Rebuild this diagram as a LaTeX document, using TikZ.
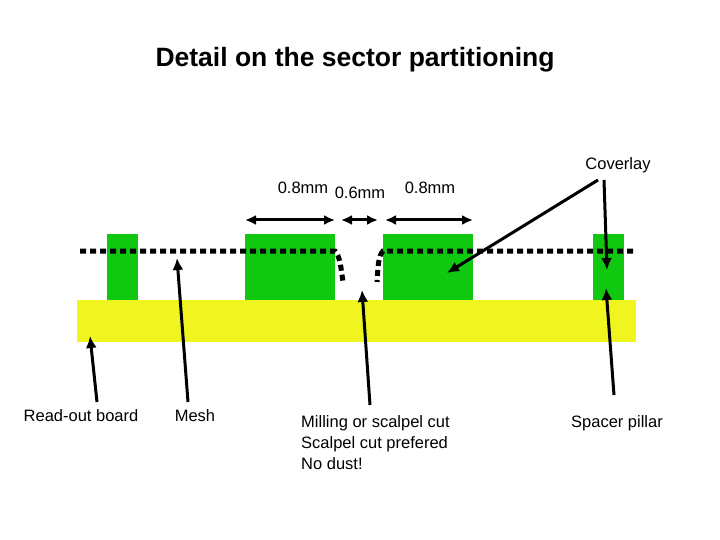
\documentclass[tikz,border=0pt]{standalone}
\usepackage{fontspec}
\setmainfont{Liberation Sans}
\usetikzlibrary{arrows.meta}
\definecolor{pgreen}{RGB}{16,200,16}
\definecolor{pyellow}{RGB}{240,245,32}
\begin{document}
\begin{tikzpicture}[x=1pt,y=-1pt,
  pillar/.style={fill=pgreen,draw=none},
  arr/.style={line width=3pt,-{Latex[length=12pt,width=11pt]}},
  dim/.style={line width=3pt,{Latex[length=11pt,width=10pt]}-{Latex[length=11pt,width=10pt]}},
  mesh/.style={line width=5pt,dash pattern=on 6pt off 4pt},
  lbl/.style={font=\fontsize{16.5}{19}\selectfont,inner sep=0pt}]
\useasboundingbox (0,0) rectangle (720,540);
\node[font=\bfseries\fontsize{26.5}{30}\selectfont] (title) at (355,60) {Detail on the sector partitioning};
\fill[pyellow] (77,300) rectangle (636,342);
\node[pillar,minimum width=31pt,minimum height=66pt,anchor=north west] (p1) at (107,234) {};
\node[pillar,minimum width=90pt,minimum height=66pt,anchor=north west] (p2) at (245,234) {};
\node[pillar,minimum width=90pt,minimum height=66pt,anchor=north west] (p3) at (383,234) {};
\node[pillar,minimum width=31pt,minimum height=66pt,anchor=north west] (p4) at (593,234) {};
\draw[mesh] (80,251) -- (335,251) .. controls (340,256) and (341,268) .. (343,282);
\draw[mesh] (633,251) -- (383,251) .. controls (378,256) and (378,268) .. (377,282);
\draw[dim] (245,220) -- (335,220);
\draw[dim] (341,220) -- (378,220);
\draw[dim] (385,220) -- (473,220);
\node[lbl] (d1) at (303,188) {0.8mm};
\node[lbl] (d2) at (360,193) {0.6mm};
\node[lbl] (d3) at (430,188) {0.8mm};
\node[lbl] (cov) at (618,165) {Coverlay};
\coordinate (c1) at (447,273);
\coordinate (c2) at (607,270);
\draw[arr] (598,180) -- (c1);
\draw[arr] (604,180) -- (c2);
\node[lbl] (ro) at (81,416) {Read-out board};
\node[lbl] (me) at (195,416) {Mesh};
\node[lbl,align=left,anchor=north west] (mi) at (301,415) {Milling or scalpel cut\\[2pt]Scalpel cut prefered\\[2pt]No dust!};
\node[lbl] (sp) at (617,423) {Spacer pillar};
\coordinate (t1) at (90,336);
\coordinate (t2) at (177,258);
\coordinate (t3) at (362,290);
\coordinate (t4) at (606,288);
\draw[arr] (97,402) -- (t1);
\draw[arr] (188,402) -- (t2);
\draw[arr] (370,405) -- (t3);
\draw[arr] (614,395) -- (t4);
\end{tikzpicture}
\end{document}
